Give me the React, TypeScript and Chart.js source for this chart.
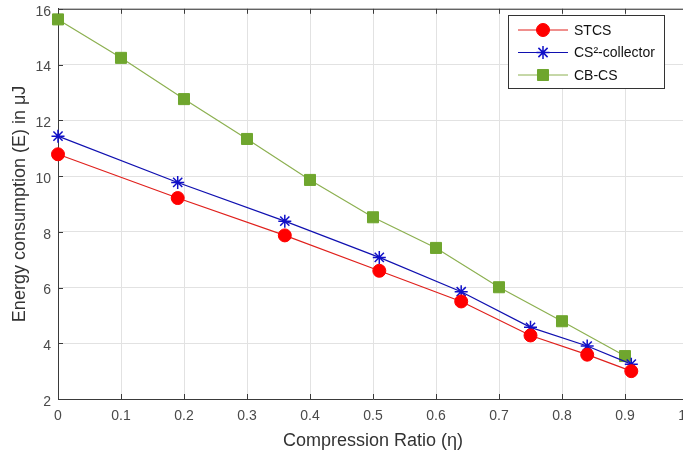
import React, { useEffect, useRef } from "react";
import { Chart, registerables } from "chart.js";

Chart.register(...registerables);

const ratioA = [0, 0.19, 0.36, 0.51, 0.64, 0.75, 0.84, 0.91];
const stcs = [10.78, 9.21, 7.87, 6.6, 5.5, 4.28, 3.59, 3.0];
const cs2 = [11.43, 9.77, 8.38, 7.08, 5.85, 4.57, 3.9, 3.25];
const ratioB = [0, 0.1, 0.2, 0.3, 0.4, 0.5, 0.6, 0.7, 0.8, 0.9];
const cbcs = [15.62, 14.24, 12.76, 11.33, 9.86, 8.52, 7.42, 6.01, 4.79, 3.54];
const seriesNames = ["STCS", "CS\u00b2-collector", "CB-CS"];
const xTitle = "Compression Ratio (\u03b7)";
const yTitle = "Energy consumption (E) in \u03bcJ";

const FONT = "'Liberation Sans', Arial, Helvetica, sans-serif";

function drawMarker(ctx: CanvasRenderingContext2D, style: string, r: number, x: number, y: number) {
  ctx.beginPath();
  if (style === "circle") {
    ctx.arc(x, y, r, 0, Math.PI * 2);
    ctx.fill();
    ctx.stroke();
  } else if (style === "rect") {
    const s = Math.SQRT1_2 * r;
    ctx.rect(x - s, y - s, 2 * s, 2 * s);
    ctx.fill();
    ctx.stroke();
  } else if (style === "star") {
    const d = r * Math.SQRT1_2;
    ctx.moveTo(x - r, y);
    ctx.lineTo(x + r, y);
    ctx.moveTo(x, y - r);
    ctx.lineTo(x, y + r);
    ctx.moveTo(x - d, y - d);
    ctx.lineTo(x + d, y + d);
    ctx.moveTo(x - d, y + d);
    ctx.lineTo(x + d, y - d);
    ctx.stroke();
  }
}

const boxPlugin = {
  id: "matlabBox",
  afterDraw(chart: any) {
    const ctx = chart.ctx;
    const { left, right, top, bottom } = chart.chartArea;
    const xs = chart.scales.x;
    const ys = chart.scales.y;
    ctx.save();
    ctx.strokeStyle = "#3a3a3a";
    ctx.lineWidth = 1;
    ctx.beginPath();
    ctx.moveTo(left, top + 0.5);
    ctx.lineTo(right, top + 0.5);
    ctx.moveTo(right - 0.5, top);
    ctx.lineTo(right - 0.5, bottom);
    xs.ticks.forEach((t: any) => {
      const px = Math.round(xs.getPixelForValue(t.value)) + 0.5;
      ctx.moveTo(px, bottom);
      ctx.lineTo(px, bottom - 5);
      ctx.moveTo(px, top);
      ctx.lineTo(px, top + 5);
    });
    ys.ticks.forEach((t: any) => {
      const py = Math.round(ys.getPixelForValue(t.value)) + 0.5;
      ctx.moveTo(left, py);
      ctx.lineTo(left + 5, py);
    });
    ctx.stroke();

    // legend
    const bx = 508, by = 15, bw = 156, bh = 73;
    ctx.fillStyle = "#ffffff";
    ctx.fillRect(bx, by, bw, bh);
    ctx.strokeStyle = "#333333";
    ctx.strokeRect(bx + 0.5, by + 0.5, bw, bh);
    chart.data.datasets.forEach((ds: any, i: number) => {
      const y = 30 + i * 22.5;
      ctx.strokeStyle = ds.borderColor;
      ctx.lineWidth = 1;
      ctx.beginPath();
      ctx.moveTo(518, y);
      ctx.lineTo(568, y);
      ctx.stroke();
      ctx.save();
      ctx.lineWidth = ds.pointBorderWidth;
      ctx.strokeStyle = ds.pointBorderColor;
      ctx.fillStyle = ds.pointBackgroundColor;
      drawMarker(ctx, ds.pointStyle, ds.pointRadius, 543, y);
      ctx.restore();
      ctx.fillStyle = "#111111";
      ctx.font = `14px ${FONT}`;
      ctx.textBaseline = "middle";
      ctx.textAlign = "left";
      ctx.fillText(ds.label, 574, y + 1);
    });
    ctx.restore();
  },
};

export default function App() {
  const ref = useRef<HTMLCanvasElement>(null);
  useEffect(() => {
    if (!ref.current) return;
    const chart = new Chart(ref.current, {
      type: "line",
      data: {
        datasets: [
          {
            label: seriesNames[0],
            data: ratioA.map((x, i) => ({ x, y: stcs[i] })),
            borderColor: "#e0201c",
            borderWidth: 1.2,
            pointStyle: "circle",
            pointRadius: 6.5,
            pointBackgroundColor: "#ff0000",
            pointBorderColor: "#ff0000",
            pointBorderWidth: 1,
            clip: false,
          },
          {
            label: seriesNames[1],
            data: ratioA.map((x, i) => ({ x, y: cs2[i] })),
            borderColor: "#1010b0",
            borderWidth: 1.2,
            pointStyle: "star",
            pointRadius: 6.5,
            pointBackgroundColor: "#1010c8",
            pointBorderColor: "#1010c8",
            pointBorderWidth: 1.5,
            clip: false,
          },
          {
            label: seriesNames[2],
            data: ratioB.map((x, i) => ({ x, y: cbcs[i] })),
            borderColor: "#8cb050",
            borderWidth: 1.2,
            pointStyle: "rect",
            pointRadius: 7.8,
            pointBackgroundColor: "#6fa62e",
            pointBorderColor: "#6fa62e",
            pointBorderWidth: 1,
            clip: false,
          },
        ],
      },
      options: {
        responsive: false,
        animation: false,
        layout: { padding: { left: 0, top: 7, right: 32, bottom: 0 } },
        plugins: { legend: { display: false }, tooltip: { enabled: false } },
        scales: {
          x: {
            type: "linear",
            min: 0,
            max: 1,
            ticks: { stepSize: 0.1, color: "#4a4a4a", font: { family: FONT, size: 14 }, padding: 9 },
            grid: { color: "#e2e2e2", drawTicks: false },
            border: { color: "#3a3a3a", width: 1 },
            title: {
              display: true,
              text: xTitle,
              color: "#333333",
              font: { family: FONT, size: 18 },
              padding: { top: 0, bottom: 5 },
            },
            afterFit(scale: any) {
              scale.height = 58;
              scale.paddingLeft = 0;
              scale.paddingRight = 0;
            },
          },
          y: {
            type: "linear",
            min: 2,
            max: 16,
            ticks: {
              stepSize: 2,
              color: "#4a4a4a",
              font: { family: FONT, size: 14 },
              padding: 7,
              labelOffset: 3,
            },
            grid: { color: "#e2e2e2", drawTicks: false },
            border: { color: "#3a3a3a", width: 1 },
            title: {
              display: true,
              text: yTitle,
              color: "#333333",
              font: { family: FONT, size: 18 },
              padding: { top: 9, bottom: 0 },
            },
            afterFit(scale: any) {
              scale.width = 58;
              scale.paddingTop = 0;
              scale.paddingBottom = 0;
            },
          },
        },
      },
      plugins: [boxPlugin],
    } as any);
    return () => chart.destroy();
  }, []);
  return (
    <div
      style={{
        position: "fixed",
        left: 0,
        top: 0,
        width: 683,
        height: 457,
        overflow: "hidden",
        background: "#ffffff",
      }}
    >
      <canvas ref={ref} width={720} height={457} style={{ display: "block" }} />
    </div>
  );
}
